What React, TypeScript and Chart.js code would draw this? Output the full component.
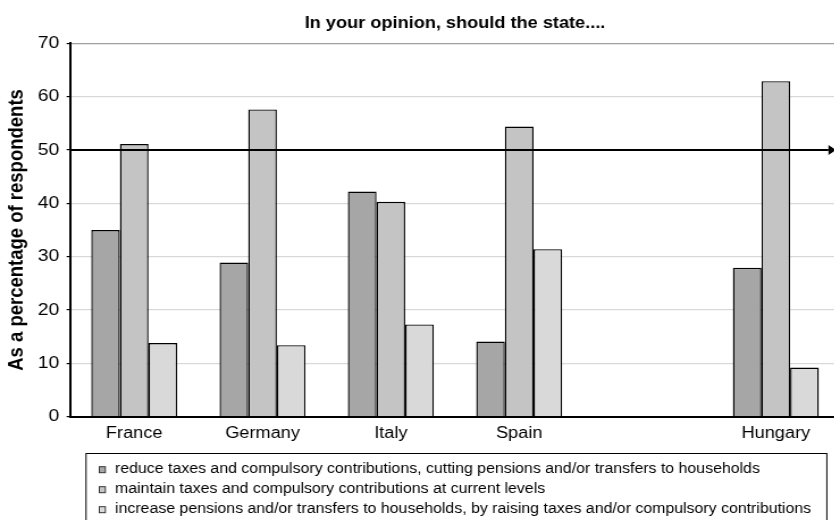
import React, { useEffect, useRef } from "react";
import { Chart, registerables } from "chart.js";

Chart.register(...registerables);

// ---- data ----
const categories = ["France", "Germany", "Italy", "Spain", "", "Hungary"];
const reduceValues = [35.0, 28.9, 42.2, 14.1, null, 27.9];
const maintainValues = [51.1, 57.6, 40.3, 54.4, null, 62.9];
const increaseValues = [13.8, 13.4, 17.3, 31.4, null, 9.2];
const seriesLabels = [
  "reduce taxes and compulsory contributions, cutting pensions and/or transfers to households",
  "maintain taxes and compulsory contributions at current levels",
  "increase pensions and/or transfers to households, by raising taxes and/or compulsory contributions",
];
const seriesColors = ["#a6a6a6", "#c4c4c4", "#d9d9d9"];
const yMin = 0;
const yMax = 70;
const yStep = 10;
const referenceValue = 50;
const titleText = "In your opinion, should the state....";
const yTitleText = "As a percentage of respondents";

// ---- layout (canvas drawn narrower, then displayed horizontally stretched) ----
const CANVAS_W = 740;
const CANVAS_H = 520;
const DISPLAY_W = 840;
const FONT = '"Liberation Sans", Arial, Helvetica, sans-serif';

const titlePlugin = {
  id: "customTitle",
  afterDraw(chart: any) {
    const { ctx, chartArea } = chart;
    ctx.save();
    ctx.fillStyle = "#000";
    ctx.font = `bold 16px ${FONT}`;
    ctx.textAlign = "center";
    ctx.textBaseline = "alphabetic";
    ctx.fillText(titleText, (chartArea.left + chartArea.right) / 2, 28);
    // y axis title
    ctx.translate(15, (chartArea.top + chartArea.bottom) / 2);
    ctx.rotate(-Math.PI / 2);
    ctx.font = `bold 18.5px ${FONT}`;
    ctx.textBaseline = "middle";
    ctx.fillText(yTitleText, 0, 0);
    ctx.restore();
  },
};

const arrowPlugin = {
  id: "refArrow",
  afterDatasetsDraw(chart: any) {
    const { ctx, chartArea, scales } = chart;
    const y = scales.y.getPixelForValue(referenceValue);
    const tip = 736.5;
    const base = 729.8;
    ctx.save();
    ctx.strokeStyle = "#000";
    ctx.fillStyle = "#000";
    ctx.lineWidth = 2;
    ctx.beginPath();
    ctx.moveTo(chartArea.left, y);
    ctx.lineTo(base, y);
    ctx.stroke();
    ctx.beginPath();
    ctx.moveTo(base, y - 5);
    ctx.lineTo(tip, y);
    ctx.lineTo(base, y + 5);
    ctx.closePath();
    ctx.fill();
    ctx.restore();
  },
};

const legendPlugin = {
  id: "boxLegend",
  afterDraw(chart: any) {
    const { ctx } = chart;
    ctx.save();
    ctx.strokeStyle = "#000";
    ctx.lineWidth = 1;
    ctx.strokeRect(75.8, 453.5, 652.6, 80);
    ctx.font = `14px ${FONT}`;
    ctx.textAlign = "left";
    ctx.textBaseline = "alphabetic";
    seriesLabels.forEach((label, i) => {
      const cy = 469.7 + i * 20;
      ctx.fillStyle = seriesColors[i];
      ctx.fillRect(87.5, cy - 3, 5.3, 6);
      ctx.strokeStyle = "#333";
      ctx.lineWidth = 1;
      ctx.strokeRect(87.5, cy - 3, 5.3, 6);
      ctx.fillStyle = "#000";
      ctx.fillText(label, 101.3, cy + 3.6);
    });
    ctx.restore();
  },
};

function App() {
  const canvasRef = useRef<HTMLCanvasElement | null>(null);

  useEffect(() => {
    if (!canvasRef.current) return;
    const values = [reduceValues, maintainValues, increaseValues];
    const chart = new Chart(canvasRef.current, {
      type: "bar",
      data: {
        labels: categories,
        datasets: values.map((v, i) => ({
          label: seriesLabels[i],
          data: v,
          backgroundColor: seriesColors[i],
          borderColor: "#000",
          borderWidth: 1.4,
          categoryPercentage: 0.67,
          barPercentage: 1.0,
        })),
      },
      options: {
        responsive: false,
        maintainAspectRatio: false,
        animation: false,
        devicePixelRatio: 1,
        layout: { padding: { top: 43.3, left: 0, right: 0, bottom: 0 } },
        font: { family: FONT },
        plugins: {
          legend: { display: false },
          title: { display: false },
          tooltip: { enabled: false },
        },
        scales: {
          x: {
            grid: { display: false, drawTicks: false },
            border: { display: true, color: "#000", width: 2 },
            ticks: { color: "#000", font: { size: 16, family: FONT }, padding: 7, maxRotation: 0, autoSkip: false },
            afterFit: (s: any) => {
              s.height = 103.3;
            },
          },
          y: {
            min: yMin,
            max: yMax,
            ticks: { stepSize: yStep, color: "#000", font: { size: 17, family: FONT }, padding: 6.5 },
            grid: {
              color: (c: any) => (c.tick && c.tick.value === yMax ? "#a0a0a0" : "#d9d9d9"),
              lineWidth: 1.2,
              tickLength: 3,
              tickColor: "#000",
            },
            border: { display: true, color: "#000", width: 2 },
            afterFit: (s: any) => {
              s.width = 61.7;
            },
          },
        },
      },
      plugins: [arrowPlugin, titlePlugin, legendPlugin],
    } as any);
    return () => chart.destroy();
  }, []);

  return (
    <div
      style={{
        position: "absolute",
        left: 0,
        top: 0,
        width: 834,
        height: 520,
        overflow: "hidden",
        background: "#fff",
      }}
    >
      <canvas
        ref={canvasRef}
        width={CANVAS_W}
        height={CANVAS_H}
        style={{ width: DISPLAY_W + "px", height: CANVAS_H + "px", display: "block" }}
      />
    </div>
  );
}

export default App;
